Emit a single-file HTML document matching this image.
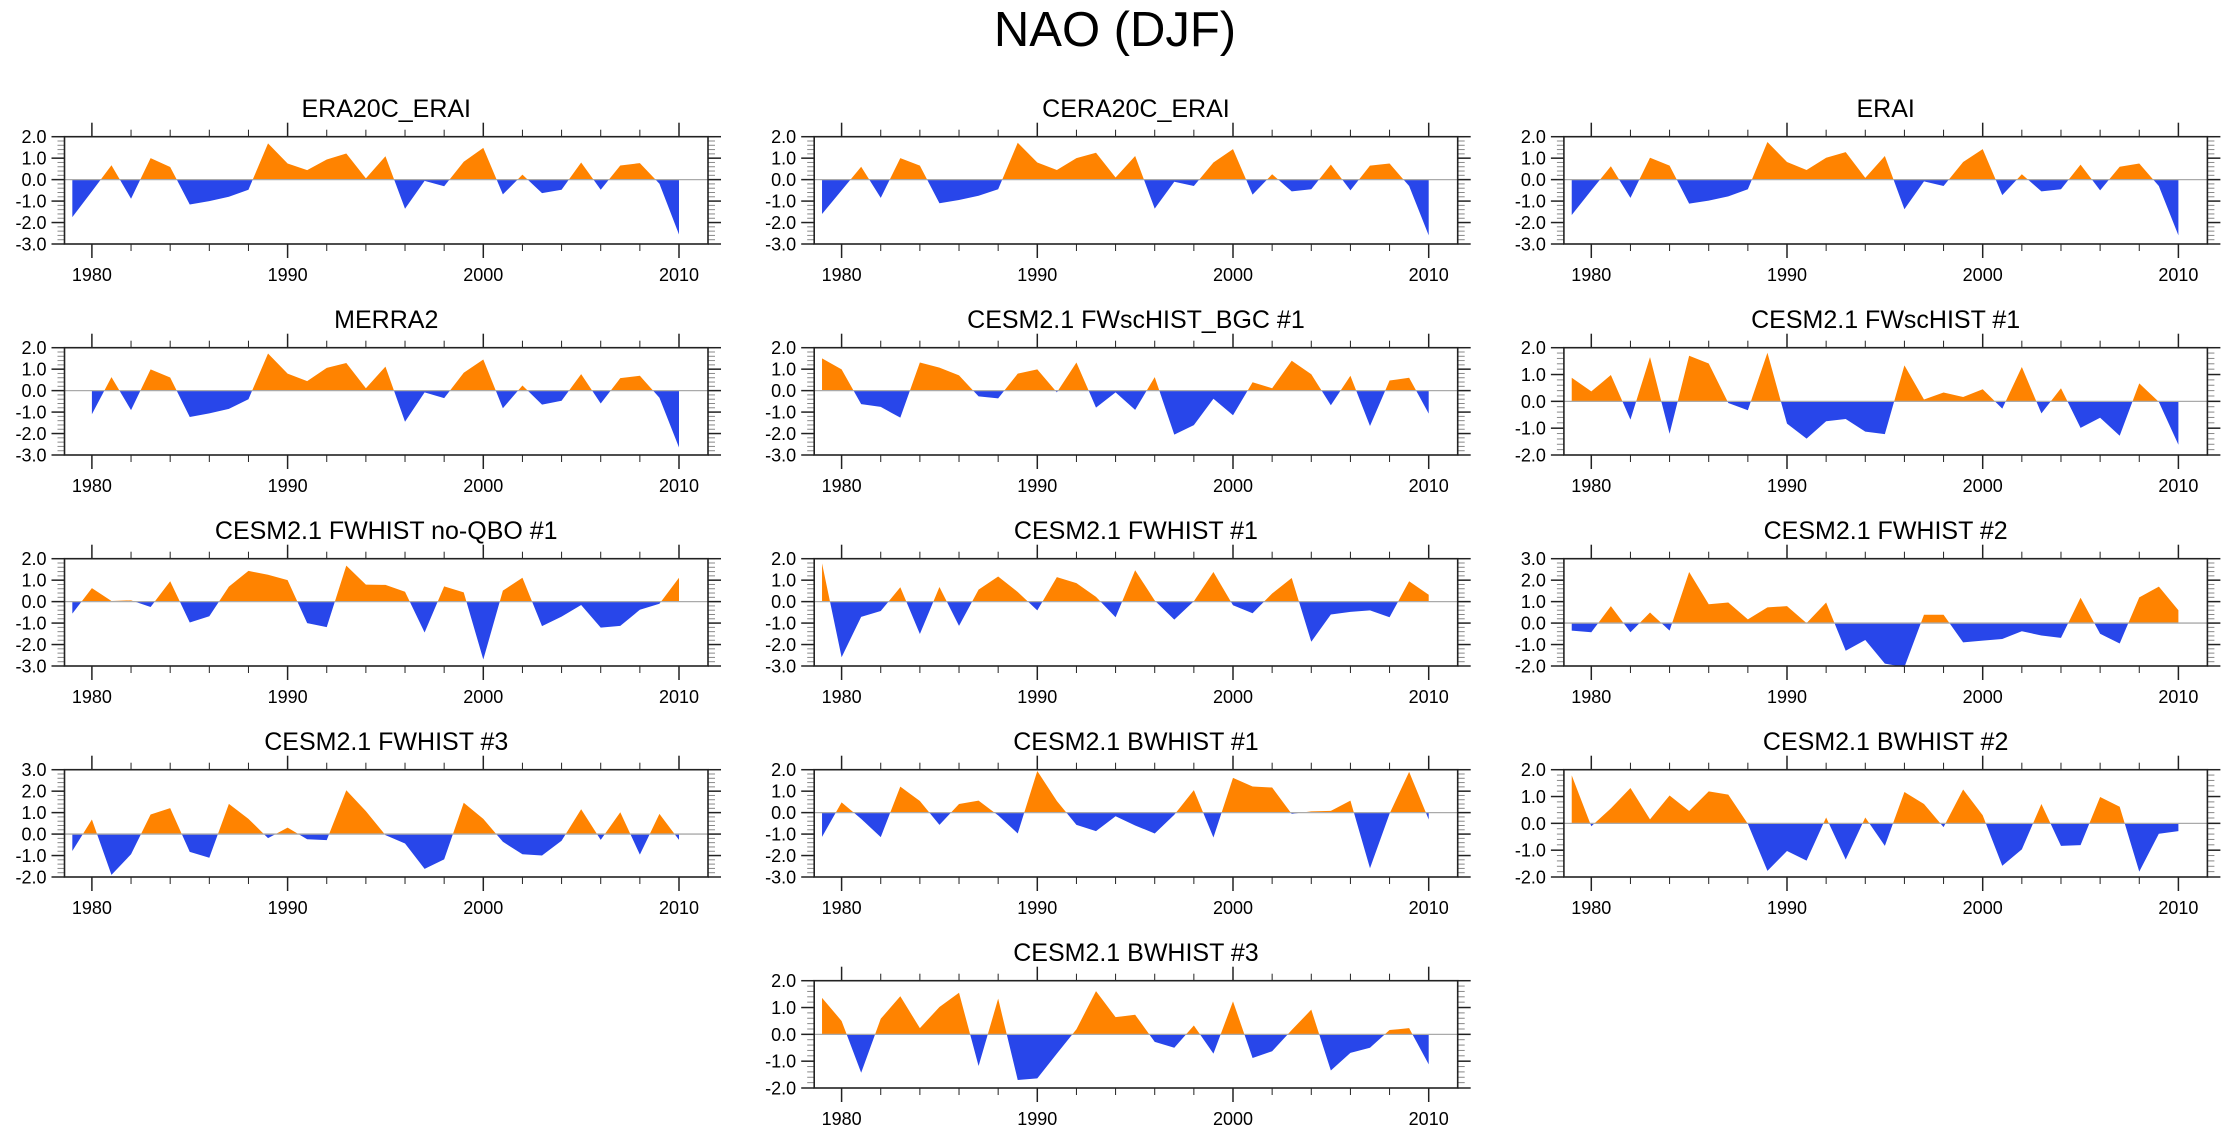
<!DOCTYPE html>
<html>
<head>
<meta charset="utf-8">
<style>
html,body{margin:0;padding:0;background:#fff;}
svg{display:block;}
text{font-family:"Liberation Sans",Arial,sans-serif;fill:#000;}
</style>
</head>
<body>
<svg id="chart" width="2230" height="1133" viewBox="0 0 2230 1133" xmlns="http://www.w3.org/2000/svg">
<rect x="0" y="0" width="2230" height="1133" fill="#fff"/>
<text x="1115" y="46" font-size="49" text-anchor="middle">NAO (DJF)</text>
</svg>
<script>
const years = [1979,1980,1981,1982,1983,1984,1985,1986,1987,1988,1989,1990,1991,1992,1993,1994,1995,1996,1997,1998,1999,2000,2001,2002,2003,2004,2005,2006,2007,2008,2009,2010];
const merraYears = [1980,1981,1982,1983,1984,1985,1986,1987,1988,1989,1990,1991,1992,1993,1994,1995,1996,1997,1998,1999,2000,2001,2002,2003,2004,2005,2006,2007,2008,2009,2010];
const xTickYears = [1980,1990,2000,2010];
const era20c = [-1.75,-0.55,0.67,-0.89,1.0,0.59,-1.16,-1.0,-0.8,-0.47,1.69,0.75,0.44,0.94,1.22,0.06,1.09,-1.36,-0.06,-0.31,0.83,1.48,-0.69,0.23,-0.63,-0.47,0.8,-0.47,0.66,0.77,-0.19,-2.56];
const cera20c = [-1.6,-0.5,0.6,-0.85,1.0,0.65,-1.1,-0.95,-0.75,-0.45,1.72,0.8,0.45,1.0,1.25,0.1,1.1,-1.35,-0.1,-0.3,0.8,1.42,-0.7,0.25,-0.55,-0.45,0.7,-0.5,0.65,0.75,-0.3,-2.6];
const erai = [-1.65,-0.5,0.62,-0.85,1.02,0.65,-1.12,-0.98,-0.78,-0.45,1.75,0.82,0.45,1.02,1.28,0.08,1.1,-1.38,-0.08,-0.3,0.82,1.42,-0.72,0.25,-0.55,-0.45,0.7,-0.5,0.6,0.75,-0.3,-2.6];
const merra2 = [-1.1,0.63,-0.91,0.99,0.61,-1.23,-1.06,-0.85,-0.4,1.73,0.79,0.44,1.06,1.29,0.11,1.12,-1.45,-0.08,-0.35,0.83,1.45,-0.82,0.24,-0.65,-0.47,0.77,-0.6,0.58,0.69,-0.33,-2.65];
const fwscBgc1 = [1.5,0.99,-0.63,-0.76,-1.26,1.31,1.07,0.71,-0.27,-0.36,0.79,0.99,-0.08,1.31,-0.79,-0.08,-0.9,0.63,-2.05,-1.61,-0.38,-1.15,0.39,0.11,1.39,0.76,-0.68,0.69,-1.65,0.47,0.6,-1.07];
const fwsc1 = [0.88,0.37,0.98,-0.68,1.65,-1.21,1.7,1.41,-0.06,-0.33,1.81,-0.83,-1.39,-0.74,-0.66,-1.13,-1.22,1.34,0.07,0.33,0.16,0.45,-0.27,1.28,-0.45,0.49,-0.99,-0.61,-1.28,0.67,-0.02,-1.62];
const fwNoQbo1 = [-0.56,0.63,0.03,0.06,-0.25,0.95,-0.97,-0.68,0.7,1.43,1.25,1.0,-1.0,-1.19,1.68,0.79,0.78,0.46,-1.44,0.71,0.43,-2.7,0.51,1.11,-1.14,-0.7,-0.16,-1.21,-1.13,-0.38,-0.1,1.11];
const fw1 = [1.78,-2.59,-0.71,-0.44,0.67,-1.51,0.68,-1.13,0.56,1.17,0.45,-0.41,1.14,0.86,0.22,-0.73,1.46,0.05,-0.84,0.02,1.38,-0.17,-0.54,0.38,1.1,-1.87,-0.6,-0.48,-0.41,-0.73,0.95,0.32];
const fw2 = [-0.35,-0.43,0.79,-0.43,0.49,-0.35,2.38,0.88,0.96,0.17,0.73,0.79,0.0,0.96,-1.29,-0.79,-1.89,-2.05,0.39,0.39,-0.9,-0.82,-0.74,-0.38,-0.58,-0.69,1.18,-0.5,-0.95,1.2,1.7,0.6];
const fw3 = [-0.79,0.68,-1.9,-0.94,0.91,1.21,-0.83,-1.1,1.41,0.71,-0.19,0.3,-0.24,-0.28,2.04,1.07,-0.05,-0.44,-1.62,-1.18,1.46,0.71,-0.36,-0.94,-1.0,-0.31,1.16,-0.27,1.02,-0.96,0.94,-0.27];
const bw1 = [-1.13,0.48,-0.29,-1.14,1.21,0.54,-0.57,0.4,0.56,-0.13,-0.97,1.94,0.54,-0.57,-0.86,-0.17,-0.6,-0.97,-0.1,1.05,-1.16,1.62,1.22,1.17,-0.06,0.06,0.08,0.56,-2.59,-0.05,1.9,-0.32];
const bw2 = [1.79,-0.11,0.56,1.32,0.15,1.04,0.46,1.19,1.07,-0.02,-1.77,-1.03,-1.39,0.22,-1.35,0.22,-0.84,1.17,0.72,-0.14,1.26,0.3,-1.58,-0.97,0.72,-0.84,-0.81,0.98,0.62,-1.8,-0.39,-0.29];
const bw3 = [1.36,0.5,-1.43,0.58,1.42,0.23,1.02,1.55,-1.18,1.33,-1.7,-1.64,-0.72,0.19,1.61,0.64,0.73,-0.28,-0.5,0.33,-0.72,1.23,-0.88,-0.63,0.16,0.92,-1.35,-0.69,-0.5,0.16,0.23,-1.12];
const yTicksA = [-3,-2,-1,0,1,2];
const yTicksB = [-2,-1,0,1,2];
const yTicksC = [-2,-1,0,1,2,3];

const panels = [
  {t:"ERA20C_ERAI", yrs:years, v:era20c, ticks:yTicksA, c:0, r:0, n:"era20c-erai"},
  {t:"CERA20C_ERAI", yrs:years, v:cera20c, ticks:yTicksA, c:1, r:0, n:"cera20c-erai"},
  {t:"ERAI", yrs:years, v:erai, ticks:yTicksA, c:2, r:0, n:"erai"},
  {t:"MERRA2", yrs:merraYears, v:merra2, ticks:yTicksA, c:0, r:1, n:"merra2"},
  {t:"CESM2.1 FWscHIST_BGC #1", yrs:years, v:fwscBgc1, ticks:yTicksA, c:1, r:1, n:"fwschist-bgc-1"},
  {t:"CESM2.1 FWscHIST #1", yrs:years, v:fwsc1, ticks:yTicksB, c:2, r:1, n:"fwschist-1"},
  {t:"CESM2.1 FWHIST no-QBO #1", yrs:years, v:fwNoQbo1, ticks:yTicksA, c:0, r:2, n:"fwhist-noqbo-1"},
  {t:"CESM2.1 FWHIST #1", yrs:years, v:fw1, ticks:yTicksA, c:1, r:2, n:"fwhist-1"},
  {t:"CESM2.1 FWHIST #2", yrs:years, v:fw2, ticks:yTicksC, c:2, r:2, n:"fwhist-2"},
  {t:"CESM2.1 FWHIST #3", yrs:years, v:fw3, ticks:yTicksC, c:0, r:3, n:"fwhist-3"},
  {t:"CESM2.1 BWHIST #1", yrs:years, v:bw1, ticks:yTicksA, c:1, r:3, n:"bwhist-1"},
  {t:"CESM2.1 BWHIST #2", yrs:years, v:bw2, ticks:yTicksB, c:2, r:3, n:"bwhist-2"},
  {t:"CESM2.1 BWHIST #3", yrs:years, v:bw3, ticks:yTicksB, c:1, r:4, n:"bwhist-3"}
];

const NS = "http://www.w3.org/2000/svg";
const svg = document.getElementById("chart");
const W = 643.5, H = 107.3;
function mk(tag, attrs, parent){
  const e = document.createElementNS(NS, tag);
  for (const k in attrs) e.setAttribute(k, attrs[k]);
  parent.appendChild(e);
  return e;
}
panels.forEach(function(p, idx){
  const L = 64.5 + 749.7*p.c, T = 136.7 + 211*p.r;
  const ymin = p.ticks[0], ymax = p.ticks[p.ticks.length-1];
  const xs = function(yr){ return L + (yr - 1978.6) * 19.57; };
  const ys = function(v){ return T + (ymax - v) / (ymax - ymin) * H; };
  const g = mk("g", {}, svg);
  
  
  const title = mk("text", {x: L + W/2, y: T - 19.5, "font-size": 25, "text-anchor": "middle"}, g);
  title.textContent = p.t;
  
  
  const z = ys(0);
  const defs = mk("defs", {}, g);
  const cpU = mk("clipPath", {id: "up" + idx}, defs);
  mk("rect", {x: L, y: T - 50, width: W, height: z - T + 50}, cpU);
  const cpD = mk("clipPath", {id: "dn" + idx}, defs);
  mk("rect", {x: L, y: z, width: W, height: T + H - z + 50}, cpD);
  let d = "M" + xs(p.yrs[0]).toFixed(2) + "," + z.toFixed(2);
  p.yrs.forEach(function(yr, i){ d += " L" + xs(yr).toFixed(2) + "," + ys(p.v[i]).toFixed(2); });
  d += " L" + xs(p.yrs[p.yrs.length-1]).toFixed(2) + "," + z.toFixed(2) + " Z";
  const pos = mk("path", {d: d, fill: "#ff8300", "clip-path": "url(#up" + idx + ")"}, g);
  
  
  const neg = mk("path", {d: d, fill: "#2846ea", "clip-path": "url(#dn" + idx + ")"}, g);
  
  
  const zl = mk("line", {x1: L, x2: L + W, y1: z, y2: z, stroke: "#aaa", "stroke-width": 1.3}, g);
  
  
  for (let v = ymin; v <= ymax + 1e-6; v += 0.2){
    const y = ys(v);
    mk("line", {x1: L - 7, x2: L, y1: y, y2: y, stroke: "#888", "stroke-width": 1}, g);
    mk("line", {x1: L + W, x2: L + W + 7, y1: y, y2: y, stroke: "#888", "stroke-width": 1}, g);
  }
  p.ticks.forEach(function(v){
    const y = ys(v);
    mk("line", {x1: L - 13, x2: L, y1: y, y2: y, stroke: "#222", "stroke-width": 1.5}, g);
    mk("line", {x1: L + W, x2: L + W + 13, y1: y, y2: y, stroke: "#222", "stroke-width": 1.5}, g);
    const tl = mk("text", {x: L - 18, y: y + 6.5, "font-size": 18, "text-anchor": "end"}, g);
    tl.textContent = v.toFixed(1);
    
    
  });
  for (let yr = 1980; yr <= 2010; yr += 2){
    const x = xs(yr);
    const major = (yr % 10 === 0);
    const len = major ? 14 : 7;
    mk("line", {x1: x, x2: x, y1: T - len, y2: T, stroke: "#222", "stroke-width": major ? 1.5 : 1}, g);
    mk("line", {x1: x, x2: x, y1: T + H, y2: T + H + len, stroke: "#222", "stroke-width": major ? 1.5 : 1}, g);
  }
  xTickYears.forEach(function(yr){
    const xl = mk("text", {x: xs(yr), y: T + H + 37, "font-size": 18, "text-anchor": "middle"}, g);
    xl.textContent = String(yr);
    
    
  });
  const fr = mk("rect", {x: L, y: T, width: W, height: H, fill: "none", stroke: "#222", "stroke-width": 1.6}, g);
  
  
});
</script>
</body>
</html>
